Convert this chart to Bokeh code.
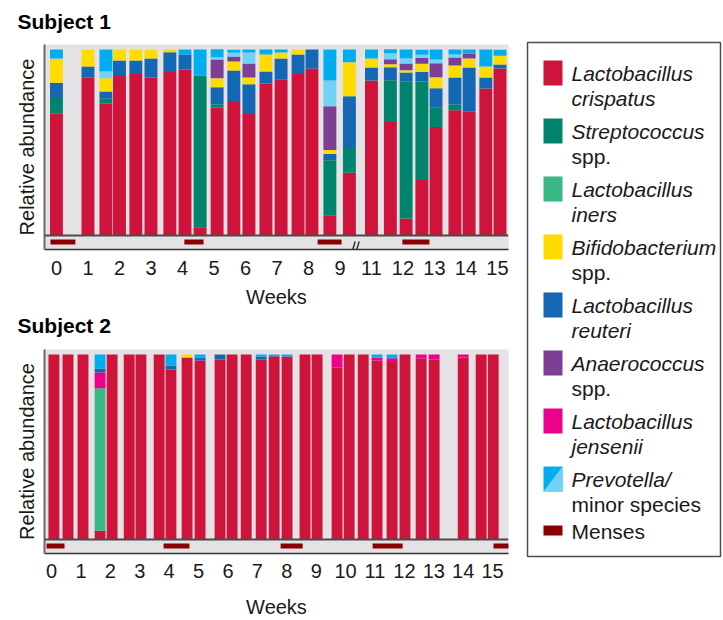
from bokeh.plotting import figure
from bokeh.layouts import row, column
from bokeh.models import Range1d, FixedTicker, Span, ColumnDataSource
from bokeh.core.properties import value
from bokeh.embed import file_html
from bokeh.resources import INLINE

FONT = "Liberation Sans"
INK = "#1a1a1a"
PANEL = "#e4e2e4"

# Taxa, bottom-to-top stacking order, and their colours
taxa = ["crispatus", "streptococcus", "iners", "jensenii", "reuteri",
        "bifidobacterium", "anaerococcus", "minor", "prevotella"]
taxon_colors = ["#cf143b", "#00846d", "#3ab886", "#ec008c", "#1467b3",
                "#ffdc00", "#7d3e96", "#74d1f6", "#00aeef"]
MENSES = "#8b0000"

# ---------------- Subject 1 (no sample in week 10) ----------------
s1_weeks = [0.0, 1.0, 1.57, 2.0, 2.52, 3.0, 3.6, 4.08, 4.56, 5.1, 5.63, 6.11, 6.65,
            7.13, 7.67, 8.11, 8.68, 9.3, 11.0, 11.6, 12.1, 12.6, 13.05, 13.65,
            14.1, 14.63, 15.08]
s1_crispatus = [65.8, 85.0, 70.8, 85.7, 86.8, 85.0, 87.9, 89.3, 4.5, 68.8, 71.8, 65.4,
                81.8, 84.0, 86.8, 89.8, 10.9, 33.7, 83.4, 61.0, 9.1, 29.9, 58.3, 67.4,
                66.5, 79.1, 89.8]
s1_streptococcus = [8.2, 0, 3.0, 0, 0, 0, 0, 0, 81.6, 1.8, 0, 0, 0, 0, 0, 0, 29.6,
                    13.9, 0, 22.5, 73.8, 52.9, 10.7, 3.2, 0, 0, 0]
s1_iners = [0] * 27
s1_jensenii = [0] * 27
s1_reuteri = [8.2, 5.9, 3.7, 8.4, 7.3, 10.2, 10.7, 8.0, 0, 9.1, 16.9, 15.9, 6.4, 11.2,
              10.5, 10.2, 3.4, 27.3, 7.0, 7.0, 4.8, 5.3, 10.2, 14.4, 23.9, 5.9, 2.1]
s1_bifidobacterium = [12.5, 9.1, 7.0, 5.9, 5.9, 4.8, 1.4, 0, 0, 4.8, 4.8, 3.7, 9.1, 3.2,
                      2.7, 0, 2.1, 18.2, 4.8, 1.6, 1.1, 4.3, 5.9, 6.4, 4.8, 5.9, 4.8]
s1_anaerococcus = [0, 0, 0, 0, 0, 0, 0, 0, 0, 10.2, 2.7, 7.5, 0, 0, 0, 0, 23.5, 0, 0,
                   2.7, 3.7, 3.2, 7.5, 4.3, 2.7, 0, 0]
s1_minor = [0.5, 0, 3.7, 0, 0, 0, 0, 0, 0, 1.1, 2.1, 5.9, 0, 0, 0, 0, 13.9, 0, 0, 3.2,
            2.7, 1.6, 2.1, 1.6, 0, 0, 0]
s1_prevotella = [4.8, 0, 11.8, 0, 0, 0, 0, 2.7, 13.9, 4.3, 1.6, 1.6, 2.7, 1.6, 0, 0,
                 16.6, 6.9, 4.8, 2.1, 4.8, 2.7, 5.3, 2.7, 2.1, 9.1, 3.2]
s1_menses = [(-0.19, 0.60), (4.06, 4.67), (8.29, 9.05), (11.98, 12.84)]
s1_tick_weeks = [0, 1, 2, 3, 4, 5, 6, 7, 8, 9, 11, 12, 13, 14, 15]
S1_SKIPPED_WEEK = 10

# ---------------- Subject 2 ----------------
s2_weeks = [0.08, 0.56, 1.07, 1.65, 2.06, 2.64, 3.04, 3.66, 4.06, 4.61, 5.05, 5.73,
            6.14, 6.62, 7.13, 7.57, 8.01, 8.62, 9.03, 9.71, 10.12, 10.6, 11.07, 11.58,
            12.02, 12.57, 13.01, 14.0, 14.61, 15.02]
s2_crispatus = [100, 100, 100, 4.8, 100, 100, 100, 100, 91.9, 98.4, 96.8, 97.3, 100,
                100, 97.3, 99.0, 98.9, 100, 100, 93.0, 100, 100, 96.8, 96.0, 100, 97.8,
                97.3, 98.4, 100, 100]
s2_streptococcus = [0] * 30
s2_iners = [0, 0, 0, 76.9] + [0] * 26
s2_jensenii = [0, 0, 0, 8.6, 0, 0, 0, 0, 0, 0, 0, 0, 0, 0, 0, 0, 0, 0, 0, 7.0, 0, 0,
               1.6, 2.0, 0, 2.2, 2.7, 1.6, 0, 0]
s2_reuteri = [0, 0, 0, 2.2, 0, 0, 0, 0, 2.2, 0, 1.6, 2.7, 0, 0, 1.6, 0, 0, 0, 0, 0, 0,
              0, 0, 0, 0, 0, 0, 0, 0, 0]
s2_bifidobacterium = [0] * 9 + [1.6] + [0] * 20
s2_anaerococcus = [0] * 30
s2_minor = [0] * 30
s2_prevotella = [0, 0, 0, 7.5, 0, 0, 0, 0, 5.9, 0, 1.6, 0, 0, 0, 1.1, 1.0, 1.1, 0, 0,
                 0, 0, 0, 1.6, 2.0, 0, 0, 0, 0, 0, 0]
s2_menses = [(-0.17, 0.44), (3.81, 4.69), (7.79, 8.54), (10.92, 11.94), (15.03, 15.7)]
s2_tick_weeks = list(range(16))


def s1_axis(week):
    # the week-10 gap is cut out of subject 1's axis
    return week - 1 if week > S1_SKIPPED_WEEK - 0.5 else week


def heading(text, height, baseline_from_top):
    # a thin strip above each panel carrying its bold heading
    h = figure(width=520, height=height, x_range=Range1d(0, 520),
               y_range=Range1d(0, height), output_backend="svg",
               toolbar_location=None, x_axis_location=None, y_axis_location=None,
               min_border=0, outline_line_color=None, background_fill_color="white",
               border_fill_color="white", frame_align=False)
    h.grid.visible = False
    h.text(x=[17], y=[height - baseline_from_top], text=[text],
           text_font=value(FONT), text_font_size=value("21px"),
           text_font_style="bold", text_baseline="alphabetic", text_color="black")
    return h


def make_panel(xs, shares, bar_width, x_range, tick_pos, tick_text, menses,
               height, border_bottom, label_standoff, weeks_standoff):
    p = figure(width=520, height=height, x_range=Range1d(*x_range),
               y_range=Range1d(-7.5, 102.7), output_backend="svg",
               toolbar_location=None, min_border_left=44, min_border_right=12,
               min_border_top=0, min_border_bottom=border_bottom,
               background_fill_color=PANEL, border_fill_color="white",
               outline_line_color=None, frame_align=False)
    p.xgrid.visible = False
    p.ygrid.visible = False

    src = dict(x=xs)
    for name, vals in zip(taxa, shares):
        src[name] = vals
    p.vbar_stack(taxa, x="x", width=bar_width, fill_color=taxon_colors,
                 line_color=None, source=ColumnDataSource(src))

    p.add_layout(Span(location=0, dimension="width", line_color="#4a4a4a",
                      line_width=2))
    p.quad(left=[m[0] for m in menses], right=[m[1] for m in menses],
           top=-2.1, bottom=-4.8, fill_color=MENSES, line_color=None)

    ya = p.yaxis[0]
    ya.ticker = FixedTicker(ticks=[], minor_ticks=[])
    ya.axis_label = "Relative abundance"
    ya.axis_label_text_font = FONT
    ya.axis_label_text_font_size = "20px"
    ya.axis_label_text_font_style = "normal"
    ya.axis_label_text_color = INK
    ya.axis_label_standoff = 7
    ya.axis_line_color = "#6a6a6a"
    ya.axis_line_width = 2
    ya.major_tick_line_color = None
    ya.minor_tick_line_color = None

    xa = p.xaxis[0]
    xa.ticker = FixedTicker(ticks=tick_pos, minor_ticks=[])
    xa.major_label_overrides = {t: s for t, s in zip(tick_pos, tick_text)}
    xa.major_label_text_font = FONT
    xa.major_label_text_font_size = "20px"
    xa.major_label_text_color = INK
    xa.major_label_standoff = label_standoff
    xa.major_tick_line_color = None
    xa.minor_tick_line_color = None
    xa.major_tick_out = 0
    xa.major_tick_in = 0
    xa.axis_line_color = "#333333"
    xa.axis_line_width = 1.5
    xa.axis_label = "Weeks"
    xa.axis_label_text_font = FONT
    xa.axis_label_text_font_size = "20px"
    xa.axis_label_text_font_style = "normal"
    xa.axis_label_text_color = INK
    xa.axis_label_standoff = weeks_standoff
    return p


s1_pos = [s1_axis(w) for w in s1_weeks]
s1_tick_pos = [s1_axis(w) for w in s1_tick_weeks]
p1 = make_panel(s1_pos,
                [s1_crispatus, s1_streptococcus, s1_iners, s1_jensenii, s1_reuteri,
                 s1_bifidobacterium, s1_anaerococcus, s1_minor, s1_prevotella],
                0.41, (-0.38, 14.35), s1_tick_pos, [str(w) for w in s1_tick_weeks],
                [(s1_axis(a), s1_axis(b)) for a, b in s1_menses],
                height=266, border_bottom=60, label_standoff=11, weeks_standoff=8)
# axis-break mark between week 9 and week 11
brk = (s1_axis(9) + s1_axis(11)) / 2
px = 1 / 31.5
p1.segment(x0=[brk - 3 * px, brk + 1 * px], y0=-7.5, x1=[brk - 0.5 * px, brk + 3.5 * px],
           y1=-3.2, line_color="#222222", line_width=1.3)

p2 = make_panel(s2_weeks,
                [s2_crispatus, s2_streptococcus, s2_iners, s2_jensenii, s2_reuteri,
                 s2_bifidobacterium, s2_anaerococcus, s2_minor, s2_prevotella],
                0.37, (-0.24, 15.54), s2_tick_weeks, [str(w) for w in s2_tick_weeks],
                s2_menses, height=271, border_bottom=67, label_standoff=10,
                weeks_standoff=15)

h1 = heading("Subject 1", 44, 21)
h2 = heading("Subject 2", 39, 15)

# ---------------- Legend ----------------
legend_colors = [taxon_colors[0], taxon_colors[1], taxon_colors[2], taxon_colors[5],
                 taxon_colors[4], taxon_colors[6], taxon_colors[3], taxon_colors[8]]
legend_first = ["Lactobacillus", "Streptococcus", "Lactobacillus", "Bifidobacterium",
                "Lactobacillus", "Anaerococcus", "Lactobacillus", "Prevotella/"]
legend_second = ["crispatus", "spp.", "iners", "spp.", "reuteri", "spp.", "jensenii",
                 "minor species"]
legend_second_italic = [True, False, True, False, True, False, True, False]

STEP, TOP0, SW_L, SW_R, SW_H, TXT_X = 58, 18, 16, 35, 25, 44
n = len(legend_first)
tops = [TOP0 + STEP * i for i in range(n)]

leg = figure(width=203, height=620, x_range=Range1d(0, 193), y_range=Range1d(514, 0),
             output_backend="svg", toolbar_location=None, x_axis_location=None,
             y_axis_location=None, min_border_left=7, min_border_right=3,
             min_border_top=42, min_border_bottom=64, outline_line_color="#4d4d4d",
             outline_line_width=1.5, background_fill_color="white",
             border_fill_color="white", frame_align=False)
leg.grid.visible = False

leg.quad(left=SW_L, right=SW_R, top=tops, bottom=[t + SW_H for t in tops],
         fill_color=legend_colors, line_color=None)
# lighter half of the Prevotella / minor species swatch
t = tops[-1]
leg.patch(x=[SW_R, SW_R, SW_L], y=[t, t + SW_H, t + SW_H], fill_color=taxon_colors[7],
          line_color=None)

common = dict(text_font=value(FONT), text_font_size=value("21px"),
              text_baseline="middle", text_color=INK)
leg.text(x=TXT_X, y=[t + 13 for t in tops], text=legend_first,
         text_font_style="italic", **common)
it = [i for i in range(n) if legend_second_italic[i]]
up = [i for i in range(n) if not legend_second_italic[i]]
leg.text(x=TXT_X, y=[tops[i] + 38 for i in it], text=[legend_second[i] for i in it],
         text_font_style="italic", **common)
leg.text(x=TXT_X, y=[tops[i] + 38 for i in up], text=[legend_second[i] for i in up],
         text_font_style="normal", **common)

mt = TOP0 + STEP * n + 1
leg.quad(left=SW_L, right=SW_R, top=mt, bottom=mt + 10, fill_color=MENSES,
         line_color=None)
leg.text(x=TXT_X, y=mt + 6, text=["Menses"], text_font_style="normal", **common)

layout = row(column(h1, p1, h2, p2), leg)
open("out.html", "w").write(file_html(layout, INLINE))
